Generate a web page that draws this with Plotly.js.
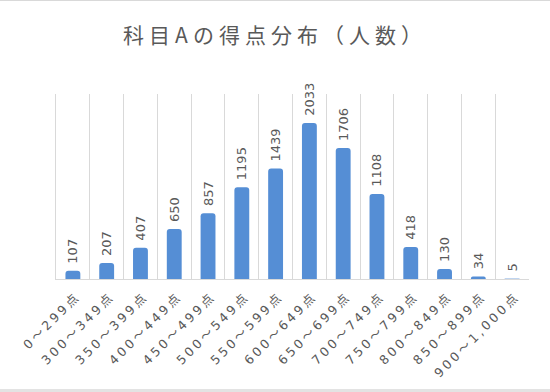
<!DOCTYPE html>
<html>
<head>
<meta charset="utf-8">
<script src="https://cdn.plot.ly/plotly-3.0.1.min.js"></script>
<style>
  html, body { margin: 0; padding: 0; background: #ffffff; }
  #wrap { position: relative; width: 550px; height: 392px; }
  #chart { position: absolute; left: 0; top: 0; width: 550px; height: 392px; }
  #topline { position: absolute; left: 0; top: 0; width: 550px; height: 1px; background: #d9d9d9; }
  #botline { position: absolute; left: 0; top: 389px; width: 550px; height: 3px; background: #e3e3e3; }
  #chart .gtitle { letter-spacing: 5px; }
  #chart .xtick text { letter-spacing: 3px; }
</style>
</head>
<body>
<div id="wrap">
  <div id="chart"></div>
  <div id="topline"></div>
  <div id="botline"></div>
</div>
<script>
const categories = [
  "0～299点", "300～349点", "350～399点", "400～449点", "450～499点",
  "500～549点", "550～599点", "600～649点", "650～699点", "700～749点",
  "750～799点", "800～849点", "850～899点", "900～1,000点"
];
const counts = [107, 207, 407, 650, 857, 1195, 1439, 2033, 1706, 1108, 418, 130, 34, 5];

const cjk = '"Noto Sans CJK JP", "Noto Sans", sans-serif';
const num = '"DejaVu Sans", "Noto Sans CJK JP", sans-serif';
const gray = '#595959';

const trace = {
  type: 'bar',
  x: categories,
  y: counts,
  texttemplate: '\u00a0%{y}',
  textposition: 'outside',
  textangle: -90,
  constraintext: 'none',
  textfont: { family: num, size: 13, color: gray },
  cliponaxis: false,
  marker: { color: '#558ED5', cornerradius: 3 },
  hoverinfo: 'skip'
};

const layout = {
  width: 550,
  height: 392,
  margin: { l: 56, r: 21, t: 94, b: 113, pad: 0 },
  paper_bgcolor: '#ffffff',
  plot_bgcolor: '#ffffff',
  bargap: 0.56,
  showlegend: false,
  title: {
    text: '科目Aの得点分布（人数）',
    font: { family: cjk, size: 21, color: gray },
    x: 0.5,
    xanchor: 'center',
    y: 0.91,
    yanchor: 'middle'
  },
  xaxis: {
    type: 'category',
    tickson: 'boundaries',
    showgrid: true,
    gridcolor: '#d9d9d9',
    gridwidth: 1,
    showline: true,
    linecolor: '#d9d9d9',
    linewidth: 1,
    ticks: '',
    tickangle: -45,
    ticklabelstandoff: 4,
    ticklabelshift: 4,
    tickfont: { family: num, size: 12.5, color: gray },
    fixedrange: true
  },
  yaxis: {
    range: [0, 2411],
    showline: true,
    linecolor: '#d9d9d9',
    linewidth: 1,
    showticklabels: false,
    ticks: '',
    showgrid: false,
    zeroline: false,
    fixedrange: true
  }
};

Plotly.newPlot('chart', [trace], layout, { displayModeBar: false, staticPlot: true });
</script>
</body>
</html>
